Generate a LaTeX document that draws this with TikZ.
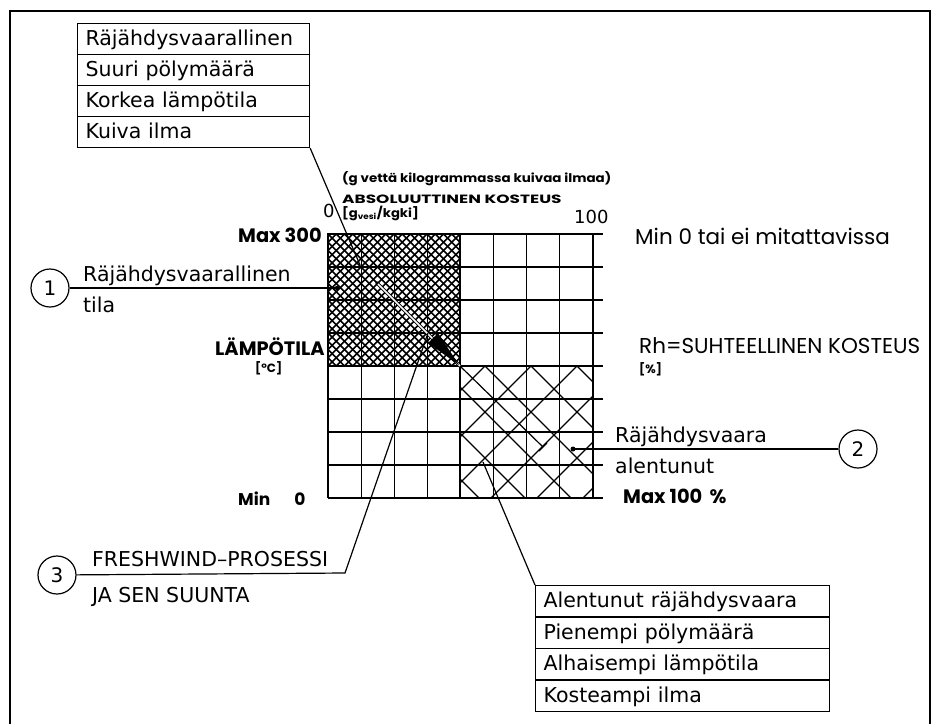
\documentclass[tikz,border=0pt]{standalone}
\usepackage{fontspec}
\setmainfont{DejaVu Sans}
\newfontfamily\geo{Poppins}

\tikzset{
	kirje/.style={font=\fontsize{20.5}{24}\selectfont, inner sep=0pt, anchor=base west},
	pieni/.style={font=\geo\bfseries\fontsize{12}{14}\selectfont, inner sep=0pt, anchor=base west},
	otsikko/.style={font=\geo\fontsize{21.5}{24}\selectfont, inner sep=0pt, anchor=base west},
	raja/.style={font=\geo\bfseries\fontsize{19.4}{22}\selectfont, inner sep=0pt, anchor=base west},
	rivi/.style={draw, line width=1.2pt, anchor=north west, minimum height=31pt, inner xsep=8pt, inner ysep=0pt, text height=13pt, text depth=0pt, align=left, font=\fontsize{20.5}{24}\selectfont},
	pallo/.style={draw, circle, line width=1.2pt, minimum size=38pt, inner sep=0pt, font=\fontsize{20}{24}\selectfont},
	viiva/.style={line width=1.2pt},
}

\begin{document}
\begin{tikzpicture}[x=1pt,y=-1pt]
	\useasboundingbox (0,0) rectangle (940,724);
	\draw[line width=2pt] (10,724) -- (10,11) -- (930,11) -- (930,724);

	% hatched fields
	\begin{scope}
		\clip (328,234) rectangle (460,366);
		\foreach \k in {-25,...,25}
			\draw[line width=1.6pt] ({394+8.25*\k},234) -- ++(150,150) ({394+8.25*\k},234) -- ++(-150,150);
	\end{scope}
	\begin{scope}
		\clip (460,366) rectangle (593,498);
		\foreach \k in {-6,...,7}
			\draw[viiva] ({485+46*\k},366) -- ++(200,200) ({485+46*\k},366) -- ++(-200,200);
	\end{scope}

	% grid
	\foreach \i in {0,...,8}
		\draw[viiva] ({328+33.125*\i},234) -- ({328+33.125*\i},498);
	\foreach \j in {0,...,8}
		\draw[viiva] (328,{234+33*\j}) -- (603,{234+33*\j});
	\draw[line width=2pt] (328,234) rectangle (460,366);
	\draw[line width=2pt] (460,366) rectangle (593,498);

	% process direction
	\coordinate (alku) at (377,283);
	\coordinate (kulma) at (460,366);
	\coordinate (loppu) at (543,447);
	\draw[line width=0.8pt, double distance=1.6pt] (alku) -- (kulma);
	\fill (alku) circle (1.8);
	\fill (459,365) -- (438,333) -- (428,343) -- cycle;
	\draw[viiva] (kulma) -- (loppu);
	\draw[viiva] (539,451) -- (547,443);

	% axis texts
	\node[pieni] (yksikko0) at (342,182) {\scalebox{1.12}[1]{(g vettä kilogrammassa kuivaa ilmaa)}};
	\node[pieni] (abs) at (342,203) {\scalebox{1.41}[1]{ABSOLUUTTINEN KOSTEUS}};
	\node[pieni] (gkg) at (342,217) {\scalebox{1.1}[1]{[g\textsubscript{vesi}/kgki]}};
	\node[kirje, font=\fontsize{18}{20}\selectfont] (nolla) at (323,217) {0};
	\node[kirje, font=\fontsize{18}{20}\selectfont] (sata) at (574,223) {100};
	\node[raja] (max300) at (238,242) {Max 300};
	\node[otsikko] (min0tai) at (635,244) {Min 0 tai ei mitattavissa};
	\node[raja] (lampo) at (215,355) {LÄMPÖTILA};
	\node[pieni] (celsius) at (255,372) {[°C]};
	\node[otsikko] (rh) at (639,353) {Rh=SUHTEELLINEN KOSTEUS};
	\node[pieni] (prosentti) at (639,373) {[\%]};
	\node[raja, font=\geo\bfseries\fontsize{17}{20}\selectfont] (min0) at (238,505) {Min\hspace{24pt}0};
	\node[raja] (max100) at (623,503) {Max 100 \,\%};

	% tables
	\node[rivi, text width=216pt] (y1) at (77,23) {Räjähdysvaarallinen};
	\node[rivi, text width=216pt] (y2) at (77,54) {Suuri pölymäärä};
	\node[rivi, text width=216pt] (y3) at (77,85) {Korkea lämpötila};
	\node[rivi, text width=216pt] (y4) at (77,116) {Kuiva ilma};
	\node[rivi, text width=278pt] (a1) at (535,585) {Alentunut räjähdysvaara};
	\node[rivi, text width=278pt] (a2) at (535,616.5) {Pienempi pölymäärä};
	\node[rivi, text width=278pt] (a3) at (535,648) {Alhaisempi lämpötila};
	\node[rivi, text width=278pt] (a4) at (535,679.5) {Kosteampi ilma};
	\coordinate (ylapaa) at (360,265);
	\coordinate (alapaa) at (483,462);
	\draw[viiva] (y4.south east) -- (ylapaa);
	\draw[viiva] (a1.north west) -- (alapaa);

	% numbered labels
	\node[pallo] (n1) at (50,288) {1};
	\node[kirje] (t1a) at (83,281) {Räjähdysvaarallinen};
	\node[kirje] (t1b) at (83,312) {tila};
	\coordinate (p1) at (337,288);
	\draw[viiva] (n1) -- (p1);
	\fill (p1) circle (2.2);

	\node[pallo] (n2) at (858,449) {2};
	\node[kirje] (t2a) at (615,442) {Räjähdysvaara};
	\node[kirje] (t2b) at (615,473) {alentunut};
	\coordinate (p2) at (573,449);
	\draw[viiva] (n2) -- (p2);
	\fill (p2) circle (2.5);

	\node[pallo] (n3) at (57,575) {3};
	\node[kirje] (t3a) at (92,566) {FRESHWIND–PROSESSI};
	\node[kirje] (t3b) at (92,602) {JA SEN SUUNTA};
	\coordinate (taite) at (345,573);
	\coordinate (p3) at (428,333);
	\draw[viiva] (n3) -- (taite) -- (p3);
\end{tikzpicture}
\end{document}
